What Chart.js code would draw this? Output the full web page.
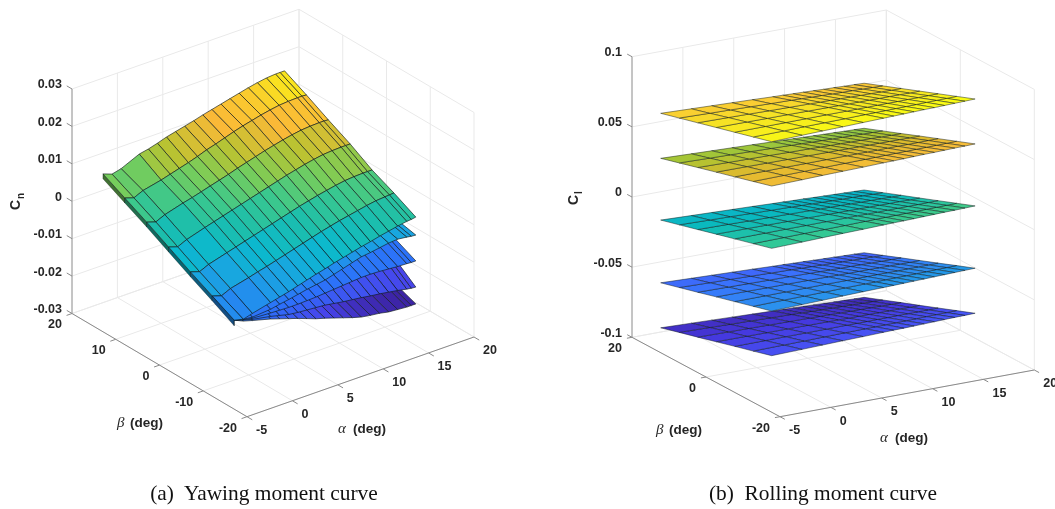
<!DOCTYPE html>
<html>
<head>
<meta charset="utf-8">
<title>Yawing and rolling moment curves</title>
<script src="https://cdn.jsdelivr.net/npm/chart.js@4"></script>
<style>
    html, body { margin: 0; padding: 0; background: #fff; overflow: hidden; }
    #page { position: relative; width: 1055px; height: 509px; }
    canvas { position: absolute; top: 0; }
    #chart-a { left: 0; }
    #chart-b { left: 527px; }
    .caption {
        position: absolute; top: 481px; width: 400px; text-align: center; white-space: pre;
        font: 21.4px "Liberation Serif", serif; color: #111;
    }
</style>
</head>
<body>
<div id="page">
    <canvas id="chart-a" width="527" height="509"></canvas>
    <canvas id="chart-b" width="528" height="509"></canvas>
    <div class="caption" style="left:64px">(a)  Yawing moment curve</div>
    <div class="caption" style="left:623px">(b)  Rolling moment curve</div>
</div>
<script>
// tick labels
const alphaTicksA = [-5, 0, 5, 10, 15, 20];
const betaTicksA = [-20, -10, 0, 10, 20];
const cnTicks = [-0.03, -0.02, -0.01, 0, 0.01, 0.02, 0.03];
const alphaTicksB = [-5, 0, 5, 10, 15, 20];
const betaTicksB = [-20, 0, 20];
const clTicks = [-0.1, -0.05, 0, 0.05, 0.1];

// mesh positions, deg
const alphaA = [-4, -3, -2, 0, 1, 2, 3, 4, 5, 6, 7, 8, 9, 10, 11, 12, 13, 14, 15, 15.5, 16];
const betaTop = [15, 10, 5, 0, -5, -10, -15];
const betaLower = [-15, -10];
const alphaB = [-4, -1, 1, 3, 5, 7, 8, 9, 10, 11, 12, 13, 14, 15, 16];
const betaB = [-15, -10, -5, 0, 5, 10, 15];

// Cn, in thousandths. Top sheet, one row per beta
const cnTop15 = [9.9, 9.0, 9.6, 11.8, 12.3, 13.0, 13.8, 14.4, 15.0, 15.6, 16.3, 16.9, 17.5, 18.1, 18.7, 19.3, 19.8, 20.2, 20.4, 20.4, 20.4];
const cnTop10 = [6.9, 6.1, 7.2, 8.3, 9.0, 9.7, 10.4, 11.2, 12.1, 12.8, 13.6, 14.4, 15.1, 15.7, 16.3, 16.8, 17.2, 17.4, 17.5, 17.5, 17.4];
const cnTop5 = [3.9, 3.1, 4.2, 5.6, 6.2, 6.9, 7.6, 8.3, 9.0, 9.8, 10.5, 11.2, 11.9, 12.5, 13.1, 13.6, 14.0, 14.2, 14.3, 14.3, 14.2];
const cnTop0 = [0.7, -0.1, 1.0, 2.5, 3.2, 3.9, 4.6, 5.3, 6.0, 6.7, 7.4, 8.1, 8.8, 9.4, 10.0, 10.5, 10.9, 11.1, 11.2, 11.2, 11.2];
const cnTopM5 = [-2.5, -3.3, -2.2, -0.8, -0.1, 0.6, 1.3, 2.0, 2.7, 3.4, 4.1, 4.8, 5.4, 6.0, 6.5, 7.0, 7.4, 7.6, 7.7, 7.7, 7.7];
const cnTopM10 = [-5.5, -6.3, -5.2, -4.0, -3.3, -2.7, -2.0, -1.3, -0.6, 0.1, 0.8, 1.5, 2.1, 2.7, 3.2, 3.7, 4.2, 4.6, 4.8, 4.9, 5.0];
const cnTopM15 = [-8.5, -9.1, -8.4, -7.2, -6.6, -6.0, -5.3, -4.6, -3.9, -3.3, -2.6, -2.0, -1.4, -0.8, -0.3, 0.3, 0.8, 1.3, 1.7, 1.8, 2.0];
// underside lip along the alpha = -4 edge of the top sheet
const cnLip = [8.6, 5.6, 2.6, -0.6, -3.8, -6.8, -10.0];

// lower sheets only show near beta = -15
const cnS2M15 = [-8.5, -9.1, -9.4, -9.0, -8.5, -8.1, -7.6, -7.1, -6.7, -6.3, -5.6, -4.9, -4.2, -3.5, -3.2, -2.8, -2.4, -2.2, -2.5, -2.7, -2.8];
const cnS2M10 = [-5.4, -6.2, -6.4, -6.0, -5.5, -5.1, -4.6, -4.1, -3.7, -3.3, -2.7, -2.1, -1.5, -1.0, -0.8, -0.6, -0.5, -0.6, -1.0, -1.3, -1.5];
const cnS3M15 = [-8.5, -9.2, -9.7, -10.0, -10.1, -10.2, -10.2, -10.1, -10.0, -9.8, -9.6, -9.4, -9.2, -9.0, -9.0, -9.1, -9.3, -9.5, -9.6, -9.7, -9.7];
const cnS3M10 = [-5.4, -6.2, -6.7, -7.0, -7.1, -7.2, -7.2, -7.1, -7.0, -6.8, -6.6, -6.4, -6.2, -6.0, -6.0, -6.1, -6.3, -6.5, -6.7, -6.8, -6.9];
const cnS4M15 = [-8.5, -9.3, -10.0, -10.9, -11.5, -12.1, -12.4, -12.6, -12.8, -13.0, -13.4, -13.8, -14.1, -14.4, -14.8, -15.1, -15.5, -15.9, -16.4, -16.6, -16.7];
const cnS4M10 = [-5.4, -6.2, -7.0, -7.9, -8.5, -8.9, -9.2, -9.4, -9.6, -9.8, -10.0, -10.3, -10.6, -10.9, -11.2, -11.4, -11.6, -11.8, -12.0, -12.1, -12.2];
const cnS5M15 = [-8.5, -9.6, -10.3, -11.6, -12.4, -13.2, -14.0, -14.9, -15.8, -16.5, -17.3, -18.1, -18.9, -19.6, -20.0, -20.3, -20.8, -21.0, -21.2, -21.2, -21.2];
const cnS5M10 = [-5.4, -7.0, -8.0, -9.0, -10.0, -11.0, -11.8, -12.7, -13.6, -14.3, -15.0, -15.8, -16.6, -17.2, -17.7, -18.0, -18.4, -18.7, -18.8, -18.9, -18.9];

// Cl, in thousandths. One array per sheet and beta
const clS1 = [
    [87.6, 88.2, 88.6, 88.9, 89.3, 89.7, 89.9, 90.1, 90.3, 90.5, 90.6, 90.8, 91.0, 91.2, 91.4],
    [83.9, 84.2, 84.5, 84.7, 84.9, 85.2, 85.3, 85.4, 85.5, 85.6, 85.7, 85.9, 86.0, 86.1, 86.2],
    [80.2, 80.3, 80.4, 80.5, 80.6, 80.6, 80.7, 80.7, 80.8, 80.8, 80.8, 80.9, 80.9, 81.0, 81.0],
    [76.5, 76.4, 76.3, 76.3, 76.2, 76.1, 76.1, 76.0, 76.0, 76.0, 75.9, 75.9, 75.9, 75.8, 75.8],
    [72.8, 72.5, 72.3, 72.0, 71.8, 71.6, 71.5, 71.4, 71.3, 71.2, 71.0, 70.9, 70.8, 70.7, 70.6],
    [69.1, 68.5, 68.2, 67.8, 67.4, 67.1, 66.9, 66.7, 66.5, 66.3, 66.1, 66.0, 65.8, 65.6, 65.4],
    [65.4, 64.6, 64.1, 63.6, 63.1, 62.5, 62.3, 62.0, 61.8, 61.5, 61.2, 61.0, 60.7, 60.5, 60.2]
];
const clS2 = [
    [56.0, 56.5, 56.9, 57.2, 57.5, 57.9, 58.0, 58.2, 58.4, 58.6, 58.7, 58.9, 59.1, 59.2, 59.4],
    [52.2, 52.5, 52.7, 52.9, 53.1, 53.3, 53.4, 53.5, 53.6, 53.7, 53.8, 53.9, 54.0, 54.1, 54.2],
    [48.4, 48.5, 48.6, 48.6, 48.7, 48.7, 48.8, 48.8, 48.8, 48.9, 48.9, 48.9, 48.9, 49.0, 49.0],
    [44.7, 44.6, 44.5, 44.4, 44.3, 44.2, 44.2, 44.1, 44.1, 44.0, 44.0, 43.9, 43.9, 43.8, 43.8],
    [40.9, 40.5, 40.3, 40.1, 39.8, 39.6, 39.5, 39.3, 39.2, 39.1, 39.0, 38.9, 38.7, 38.6, 38.5],
    [37.1, 36.5, 36.2, 35.8, 35.4, 35.0, 34.8, 34.6, 34.4, 34.2, 34.1, 33.9, 33.7, 33.5, 33.3],
    [33.3, 32.5, 32.0, 31.5, 31.0, 30.4, 30.2, 29.9, 29.7, 29.4, 29.1, 28.9, 28.6, 28.4, 28.1]
];
const clS3 = [
    [11.6, 12.1, 12.5, 12.9, 13.2, 13.6, 13.8, 13.9, 14.1, 14.3, 14.5, 14.7, 14.8, 15.0, 15.2],
    [7.9, 8.2, 8.4, 8.6, 8.8, 9.1, 9.2, 9.3, 9.4, 9.5, 9.6, 9.7, 9.8, 9.9, 10.0],
    [4.2, 4.3, 4.4, 4.4, 4.5, 4.5, 4.6, 4.6, 4.6, 4.7, 4.7, 4.7, 4.7, 4.8, 4.8],
    [0.5, 0.4, 0.3, 0.2, 0.1, 0.0, -0.1, -0.1, -0.1, -0.2, -0.2, -0.3, -0.3, -0.4, -0.4],
    [-3.3, -3.6, -3.9, -4.1, -4.3, -4.5, -4.6, -4.7, -4.8, -5.0, -5.1, -5.2, -5.3, -5.4, -5.5],
    [-7.0, -7.6, -7.9, -8.3, -8.7, -9.0, -9.2, -9.4, -9.6, -9.8, -10.0, -10.1, -10.3, -10.5, -10.7],
    [-10.7, -11.5, -12.0, -12.5, -13.0, -13.6, -13.8, -14.1, -14.3, -14.6, -14.9, -15.1, -15.4, -15.6, -15.9]
];
const clS4 = [
    [-33.1, -32.5, -32.1, -31.7, -31.3, -31.0, -30.8, -30.6, -30.4, -30.2, -30.0, -29.8, -29.6, -29.4, -29.2],
    [-36.8, -36.4, -36.2, -36.0, -35.7, -35.5, -35.4, -35.2, -35.1, -35.0, -34.9, -34.8, -34.6, -34.5, -34.4],
    [-40.5, -40.4, -40.3, -40.2, -40.1, -40.1, -40.0, -40.0, -39.9, -39.9, -39.9, -39.8, -39.8, -39.7, -39.7],
    [-44.2, -44.3, -44.4, -44.4, -44.5, -44.6, -44.6, -44.7, -44.7, -44.7, -44.8, -44.8, -44.8, -44.9, -44.9],
    [-48.0, -48.3, -48.5, -48.7, -48.9, -49.2, -49.3, -49.4, -49.5, -49.6, -49.7, -49.8, -49.9, -50.0, -50.1],
    [-51.7, -52.3, -52.6, -53.0, -53.4, -53.7, -53.9, -54.1, -54.3, -54.5, -54.7, -54.8, -55.0, -55.2, -55.4],
    [-55.4, -56.2, -56.7, -57.2, -57.7, -58.3, -58.5, -58.8, -59.0, -59.3, -59.6, -59.8, -60.1, -60.3, -60.6]
];
const clS5 = [
    [-64.9, -64.4, -64.0, -63.6, -63.3, -62.9, -62.7, -62.6, -62.4, -62.2, -62.0, -61.8, -61.6, -61.5, -61.3],
    [-68.7, -68.4, -68.2, -67.9, -67.7, -67.5, -67.4, -67.3, -67.2, -67.1, -67.0, -66.8, -66.7, -66.6, -66.5],
    [-72.4, -72.3, -72.2, -72.2, -72.1, -72.0, -72.0, -72.0, -71.9, -71.9, -71.8, -71.8, -71.8, -71.7, -71.7],
    [-76.2, -76.3, -76.4, -76.4, -76.5, -76.6, -76.6, -76.7, -76.7, -76.7, -76.8, -76.8, -76.8, -76.9, -76.9],
    [-80.0, -80.3, -80.5, -80.7, -80.9, -81.1, -81.2, -81.3, -81.4, -81.5, -81.6, -81.7, -81.8, -81.9, -82.0],
    [-83.7, -84.2, -84.6, -84.9, -85.3, -85.6, -85.8, -86.0, -86.2, -86.3, -86.5, -86.7, -86.9, -87.0, -87.2],
    [-87.5, -88.2, -88.7, -89.2, -89.7, -90.2, -90.4, -90.7, -90.9, -91.2, -91.4, -91.7, -91.9, -92.2, -92.4]
];

// colour ramps, [value in thousandths, r, g, b]
const rampA = [
    [-21.2, 60, 36, 165], [-16.7, 72, 68, 235], [-10, 45, 112, 250], [-5.5, 35, 140, 238], [-2.5, 25, 165, 225],
    [0.7, 12, 185, 205], [3.9, 28, 190, 172], [6.9, 60, 200, 140], [10, 120, 205, 90], [13, 185, 195, 50],
    [16.3, 250, 185, 55], [19, 250, 205, 45], [20.4, 250, 228, 30]
];
const rampB = [
    [-92.4, 62, 38, 168], [-77, 69, 56, 222], [-62, 71, 84, 245], [-47, 57, 117, 253], [-33, 43, 145, 238],
    [-18, 12, 175, 210], [-3, 10, 185, 190], [12, 50, 200, 150], [25, 100, 204, 100], [38, 170, 196, 50],
    [50, 225, 186, 45], [62, 252, 190, 60], [76, 246, 225, 38], [91.4, 249, 251, 20]
];

const GRID = '#e9e9e9';
const AXIS = '#8a8a8a';
const MESH = 'rgba(15,25,25,0.8)';
const TEXT = '#262626';

const viewA = { ox: 247, oy: 416.7, ax: 9.08, ay: -3.188, bx: -4.375, by: -2.58, zy: -3742 };
const viewB = { ox: 253, oy: 416.7, ax: 10.172, ay: -1.868, bx: -3.7, by: -1.985, zy: -1403 };

function project(view, alphaTicks, betaTicks, zTicks, a, b, z) {
    const da = a - alphaTicks[0];
    const db = b - betaTicks[0];
    const dz = z - zTicks[0];
    return {
        x: view.ox + view.ax * da + view.bx * db,
        y: view.oy + view.ay * da + view.by * db + view.zy * dz
    };
}

function rampColor(ramp, v, shade = 1) {
    let i = 0;
    while (i < ramp.length - 2 && v > ramp[i + 1][0]) i++;
    const lo = ramp[i];
    const hi = ramp[i + 1];
    const t = Math.min(1, Math.max(0, (v - lo[0]) / (hi[0] - lo[0])));
    const ch = k => Math.round((lo[k] + (hi[k] - lo[k]) * t) * shade);
    return `rgb(${ch(1)},${ch(2)},${ch(3)})`;
}

function lineSet(points, color, width = 1) {
    return { data: points, showLine: true, fill: false, borderColor: color, borderWidth: width, pointRadius: 0, tension: 0 };
}

function cellSet(points, color, meshWidth) {
    return {
        data: points.concat([points[0]]), showLine: true, fill: 'shape', backgroundColor: color,
        borderColor: MESH, borderWidth: meshWidth, borderJoinStyle: 'round', pointRadius: 0, tension: 0
    };
}

function boxSets(cfg) {
    const { alphaTicks, betaTicks, zTicks, view, alphaTickLen, betaTickLen } = cfg;
    const p = (a, b, z) => project(view, alphaTicks, betaTicks, zTicks, a, b, z);
    const aMin = alphaTicks[0], aMax = alphaTicks[alphaTicks.length - 1];
    const bMin = betaTicks[0], bMax = betaTicks[betaTicks.length - 1];
    const zMin = zTicks[0], zMax = zTicks[zTicks.length - 1];
    const sets = [];

    alphaTicks.forEach(a => {
        if (a !== aMin) sets.push(lineSet([p(a, bMax, zMin), p(a, bMax, zMax)], GRID));
        sets.push(lineSet([p(a, bMin, zMin), p(a, bMax, zMin)], GRID));
    });
    betaTicks.forEach(b => {
        sets.push(lineSet([p(aMax, b, zMin), p(aMax, b, zMax)], GRID));
        sets.push(lineSet([p(aMin, b, zMin), p(aMax, b, zMin)], GRID));
    });
    zTicks.forEach(z => {
        sets.push(lineSet([p(aMin, bMax, z), p(aMax, bMax, z)], GRID));
        sets.push(lineSet([p(aMax, bMax, z), p(aMax, bMin, z)], GRID));
    });

    sets.push(lineSet([p(aMin, bMax, zMin), p(aMin, bMax, zMax)], AXIS));
    sets.push(lineSet([p(aMin, bMax, zMin), p(aMin, bMin, zMin)], AXIS));
    sets.push(lineSet([p(aMin, bMin, zMin), p(aMax, bMin, zMin)], AXIS));

    zTicks.forEach(z => sets.push(lineSet([p(aMin, bMax, z), p(aMin, bMax + betaTickLen, z)], AXIS)));
    betaTicks.forEach(b => sets.push(lineSet([p(aMin, b, zMin), p(aMin - alphaTickLen, b, zMin)], AXIS)));
    alphaTicks.forEach(a => sets.push(lineSet([p(a, bMin, zMin), p(a, bMin - betaTickLen, zMin)], AXIS)));
    return sets;
}

function sheetSets(cfg, alphas, betas, rows) {
    const { alphaTicks, betaTicks, zTicks, view, ramp, meshWidth } = cfg;
    const p = (a, b, z) => project(view, alphaTicks, betaTicks, zTicks, a, b, z / 1000);
    const sets = [];
    for (let i = 0; i < betas.length - 1; i++) {
        for (let j = alphas.length - 2; j >= 0; j--) {
            const corners = [
                p(alphas[j], betas[i], rows[i][j]),
                p(alphas[j + 1], betas[i], rows[i][j + 1]),
                p(alphas[j + 1], betas[i + 1], rows[i + 1][j + 1]),
                p(alphas[j], betas[i + 1], rows[i + 1][j])
            ];
            sets.push(cellSet(corners, rampColor(ramp, rows[i][j]), meshWidth));
        }
    }
    return sets;
}

function lipSets(cfg, alpha, betas, edge, lip) {
    const { alphaTicks, betaTicks, zTicks, view, ramp } = cfg;
    const p = (b, z) => project(view, alphaTicks, betaTicks, zTicks, alpha, b, z / 1000);
    const sets = [];
    for (let i = 0; i < betas.length - 1; i++) {
        const corners = [p(betas[i], edge[i]), p(betas[i + 1], edge[i + 1]), p(betas[i + 1], lip[i + 1]), p(betas[i], lip[i])];
        sets.push(cellSet(corners, rampColor(ramp, edge[i], 0.55), 0.4));
    }
    return sets;
}

// tick labels and axis titles are plain text placed through the chart's scales
function textPlugin(cfg) {
    return {
        id: 'axisText',
        afterDraw(chart) {
            const { ctx, scales } = chart;
            const { alphaTicks, betaTicks, zTicks, view, titles } = cfg;
            const at = (a, b, z) => {
                const pt = project(view, alphaTicks, betaTicks, zTicks, a, b, z);
                return { x: scales.x.getPixelForValue(pt.x), y: scales.y.getPixelForValue(pt.y) };
            };
            const aMin = alphaTicks[0], bMin = betaTicks[0], zMin = zTicks[0];
            const bMax = betaTicks[betaTicks.length - 1];

            ctx.save();
            ctx.fillStyle = TEXT;
            ctx.textBaseline = 'middle';
            ctx.font = 'bold 12.5px "Liberation Sans", Arial, sans-serif';

            ctx.textAlign = 'right';
            zTicks.forEach(z => {
                const pt = at(aMin, bMax, z);
                ctx.fillText(String(z), pt.x - 10, pt.y - 4);
            });
            betaTicks.forEach(b => {
                const pt = at(aMin, b, zMin);
                ctx.fillText(String(b), pt.x - 10, pt.y + 11.5);
            });
            ctx.textAlign = 'left';
            alphaTicks.forEach(a => {
                const pt = at(a, bMin, zMin);
                ctx.fillText(String(a), pt.x + 9, pt.y + 14);
            });

            titles.forEach(t => {
                ctx.font = 'italic 15px "Liberation Serif", serif';
                ctx.fillText(t.symbol, scales.x.getPixelForValue(t.x), scales.y.getPixelForValue(t.y));
                ctx.font = 'bold 13.5px "Liberation Sans", Arial, sans-serif';
                ctx.fillText('(deg)', scales.x.getPixelForValue(t.x + t.gap), scales.y.getPixelForValue(t.y));
            });

            const z = cfg.zTitle;
            ctx.translate(scales.x.getPixelForValue(z.x), scales.y.getPixelForValue(z.y));
            ctx.rotate(-Math.PI / 2);
            ctx.textAlign = 'left';
            ctx.font = 'bold 14px "Liberation Sans", Arial, sans-serif';
            ctx.fillText('C', 0, 0);
            ctx.font = 'bold 10px "Liberation Sans", Arial, sans-serif';
            ctx.fillText(z.sub, 11, 5);
            ctx.restore();
        }
    };
}

function makeChart(id, cfg, sets, width) {
    // Chart.js paints the first dataset last, so hand them over back to front
    return new Chart(document.getElementById(id), {
        type: 'scatter',
        data: { datasets: sets.slice().reverse() },
        options: {
            responsive: false,
            animation: false,
            events: [],
            layout: { padding: 0 },
            plugins: { legend: { display: false }, tooltip: { enabled: false } },
            scales: {
                x: { type: 'linear', display: false, min: 0, max: width },
                y: { type: 'linear', display: false, min: 0, max: 509, reverse: true }
            }
        },
        plugins: [textPlugin(cfg)]
    });
}

const cfgA = {
    alphaTicks: alphaTicksA, betaTicks: betaTicksA, zTicks: cnTicks, view: viewA, ramp: rampA,
    meshWidth: 0.8, alphaTickLen: 0.6, betaTickLen: 1.2,
    titles: [{ symbol: 'β', x: 117, y: 423, gap: 13 }, { symbol: 'α', x: 338, y: 429, gap: 15 }],
    zTitle: { x: 16, y: 210, sub: 'n' }
};
const cfgB = {
    alphaTicks: alphaTicksB, betaTicks: betaTicksB, zTicks: clTicks, view: viewB, ramp: rampB,
    meshWidth: 0.6, alphaTickLen: 0.5, betaTickLen: 1.3,
    titles: [{ symbol: 'β', x: 129, y: 430, gap: 13 }, { symbol: 'α', x: 353, y: 438, gap: 15 }],
    zTitle: { x: 47, y: 205, sub: 'l' }
};

const topRows = [cnTop15, cnTop10, cnTop5, cnTop0, cnTopM5, cnTopM10, cnTopM15];
const setsA = boxSets(cfgA).concat(
    sheetSets(cfgA, alphaA, betaLower, [cnS5M15, cnS5M10]),
    sheetSets(cfgA, alphaA, betaLower, [cnS4M15, cnS4M10]),
    sheetSets(cfgA, alphaA, betaLower, [cnS3M15, cnS3M10]),
    sheetSets(cfgA, alphaA, betaLower, [cnS2M15, cnS2M10]),
    lipSets(cfgA, alphaA[0], betaTop, topRows.map(r => r[0]), cnLip),
    sheetSets(cfgA, alphaA, betaTop, topRows)
);
const setsB = boxSets(cfgB).concat(
    sheetSets(cfgB, alphaB, betaB, clS5),
    sheetSets(cfgB, alphaB, betaB, clS4),
    sheetSets(cfgB, alphaB, betaB, clS3),
    sheetSets(cfgB, alphaB, betaB, clS2),
    sheetSets(cfgB, alphaB, betaB, clS1)
);

makeChart('chart-a', cfgA, setsA, 527);
makeChart('chart-b', cfgB, setsB, 528);
</script>
</body>
</html>
